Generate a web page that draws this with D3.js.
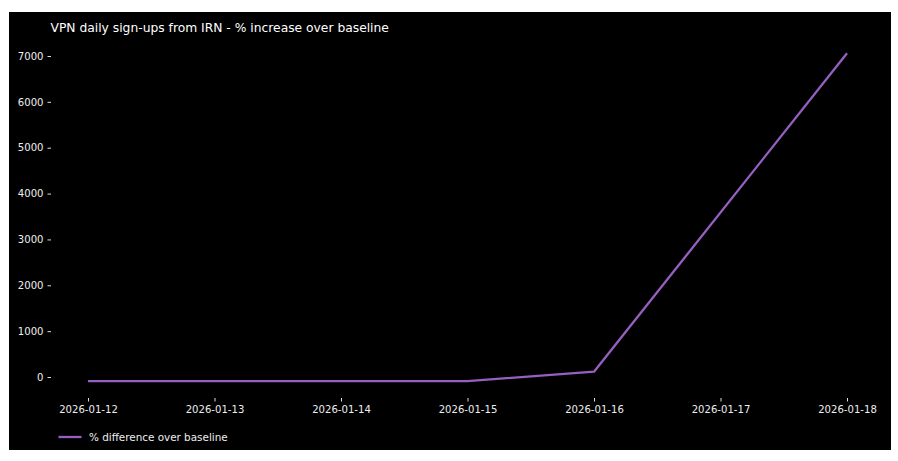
<!DOCTYPE html>
<html><head><meta charset="utf-8">
<script src="https://cdn.jsdelivr.net/npm/d3@7"></script>
<style>html,body{margin:0;padding:0;background:#fff;}svg{display:block;}</style>
</head><body>
<svg id="c" width="898" height="461"></svg>
<script>
const dates = ["2026-01-12","2026-01-13","2026-01-14","2026-01-15","2026-01-16","2026-01-17","2026-01-18"];
const pointDates = ["2026-01-12","2026-01-13","2026-01-14","2026-01-15","2026-01-16","2026-01-18"];
const pctValues = [-90, -90, -90, -90, 115, 7060];
const yTicks = [0,1000,2000,3000,4000,5000,6000,7000];
const titleText = "VPN daily sign-ups from IRN - % increase over baseline";
const legendLabel = "% difference over baseline";

const parse = d3.utcParse("%Y-%m-%d");
const fmt = d3.utcFormat("%Y-%m-%d");
const svg = d3.select("#c");
const font = "DejaVu Sans, sans-serif";
const lineColor = "#9560c2";

svg.append("rect").attr("x",9).attr("y",12).attr("width",882).attr("height",438).attr("fill","#000");

const x = d3.scaleUtc().domain([parse(dates[0]), parse(dates[dates.length-1])]).range([88, 847]);
const y = d3.scaleLinear().domain([0,7000]).range([377, 56]);

// y axis
const ya = svg.append("g").attr("transform","translate(51,0)")
  .call(d3.axisLeft(y).tickValues(yTicks).tickSize(3.5).tickPadding(4).tickFormat(d3.format("d")));
ya.select(".domain").remove();
ya.selectAll("line").attr("stroke","#ddd");
ya.selectAll("text").attr("fill","#eee").style("font-family",font).style("font-size","10.1px");

// x axis
const xa = svg.append("g").attr("transform","translate(0,398)")
  .call(d3.axisBottom(x).tickValues(dates.map(parse)).tickSize(3.5).tickPadding(4).tickFormat(fmt));
xa.select(".domain").remove();
xa.selectAll("line").attr("stroke","#ddd");
xa.selectAll("text").attr("fill","#eee").style("font-family",font).style("font-size","10.1px");

// line
const pts = pointDates.map((d,i)=>({d:parse(d), v:pctValues[i]}));
svg.append("path").datum(pts)
  .attr("fill","none").attr("stroke",lineColor).attr("stroke-width",2.3)
  .attr("stroke-linejoin","round")
  .attr("d", d3.line().x(p=>x(p.d)).y(p=>y(p.v)));

// title
svg.append("text").attr("x",50.5).attr("y",31.5).attr("fill","#fff")
  .style("font-family",font).style("font-size","12.3px").text(titleText);

// legend
svg.append("line").attr("x1",58.5).attr("x2",81.5).attr("y1",437).attr("y2",437)
  .attr("stroke",lineColor).attr("stroke-width",2.3);
svg.append("text").attr("x",89).attr("y",440.5).attr("fill","#eee")
  .style("font-family",font).style("font-size","10.4px").text(legendLabel);
</script>
</body></html>
